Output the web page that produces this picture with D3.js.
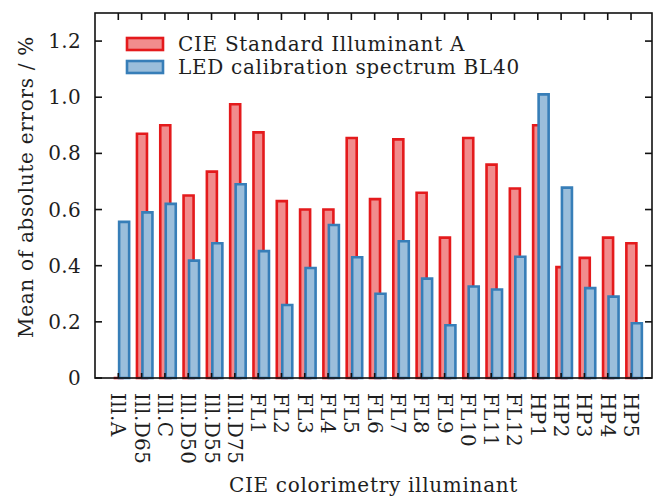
<!DOCTYPE html>
<html><head><meta charset="utf-8">
<script src="https://cdn.jsdelivr.net/npm/d3@7"></script>
<style>
html,body{margin:0;padding:0;background:#fff;}
svg text{font-family:"DejaVu Serif",serif;fill:#1e1e1e;}
</style></head>
<body><svg id="c" width="658" height="500"></svg>
<script>
const categories = ["Ill.A","Ill.D65","Ill.C","Ill.D50","Ill.D55","Ill.D75","FL1","FL2","FL3","FL4","FL5","FL6","FL7","FL8","FL9","FL10","FL11","FL12","HP1","HP2","HP3","HP4","HP5"];
const seriesNames = ["CIE Standard Illuminant A","LED calibration spectrum BL40"];
const illuminantA = [0,0.87,0.90,0.65,0.735,0.975,0.875,0.63,0.60,0.60,0.855,0.637,0.85,0.66,0.50,0.855,0.76,0.675,0.90,0.395,0.428,0.50,0.48];
const ledBL40 = [0.556,0.59,0.62,0.418,0.48,0.69,0.452,0.26,0.392,0.545,0.43,0.30,0.487,0.354,0.188,0.326,0.315,0.432,1.01,0.678,0.32,0.29,0.195];
const yTicks = [0,0.2,0.4,0.6,0.8,1.0,1.2];
const yTickLabels = ["0","0.2","0.4","0.6","0.8","1.0","1.2"];

const svg = d3.select("#c");
const L=95,R=652,T=13,B=378;
const x = d3.scaleLinear().domain([-1,22.9]).range([L,R]);
const y = d3.scaleLinear().domain([0,1.3]).range([B,T]);
const bw = 0.43;
const colors = [{stroke:"#e41a1c",fill:"#f18c8d"},{stroke:"#377eb8",fill:"#9bbedb"}];
const offsets = [0.015,0.25];
const series = [illuminantA, ledBL40];
const FS = 20, LS = "0.7px";

function barPath(cx, v){
  const x0=x(cx-bw/2), x1=x(cx+bw/2), y0=y(0), y1=y(v);
  return `M${x0},${y0}V${y1}H${x1}V${y0}Z`;
}
series.forEach((vals,s)=>{
  svg.append("g").selectAll("path").data(vals).join("path")
    .attr("d",(v,i)=>barPath(i+offsets[s],v))
    .attr("fill",colors[s].fill).attr("stroke",colors[s].stroke)
    .attr("stroke-width",2.6).attr("stroke-linejoin","miter");
});

// frame
const g = svg.append("g");
g.append("rect").attr("x",L).attr("y",T).attr("width",R-L).attr("height",B-T)
  .attr("fill","none").attr("stroke","#111").attr("stroke-width",1.6);
yTicks.forEach((t,i)=>{
  g.append("line").attr("x1",L).attr("x2",L+7).attr("y1",y(t)).attr("y2",y(t)).attr("stroke","#111").attr("stroke-width",1.6);
  g.append("line").attr("x1",R).attr("x2",R-7).attr("y1",y(t)).attr("y2",y(t)).attr("stroke","#111").attr("stroke-width",1.6);
  g.append("text").attr("x",L-14).attr("y",y(t)).attr("dy","0.35em").attr("text-anchor","end")
    .attr("font-size",FS).attr("letter-spacing","0.3px").text(yTickLabels[i]);
});
categories.forEach((c,i)=>{
  g.append("line").attr("x1",x(i)).attr("x2",x(i)).attr("y1",T).attr("y2",T+7).attr("stroke","#111").attr("stroke-width",1.6);
  g.append("line").attr("x1",x(i)).attr("x2",x(i)).attr("y1",B).attr("y2",B-5).attr("stroke","#111").attr("stroke-width",1.6);
  g.append("text").attr("transform",`translate(${x(i)},393) rotate(90)`)
    .attr("dy","0.35em").attr("text-anchor","start").attr("font-size",FS).attr("letter-spacing","0.4px").text(c);
});
svg.append("text").attr("x",(L+R)/2).attr("y",492).attr("text-anchor","middle").attr("font-size",FS)
  .attr("letter-spacing",LS).text("CIE colorimetry illuminant");
svg.append("text").attr("transform",`translate(33,187) rotate(-90)`).attr("text-anchor","middle")
  .attr("font-size",FS).attr("letter-spacing",LS).text("Mean of absolute errors / %");
seriesNames.forEach((n,i)=>{
  const yy = 44 + i*23;
  svg.append("rect").attr("x",127).attr("y",yy-6).attr("width",36).attr("height",12)
    .attr("fill",colors[i].fill).attr("stroke",colors[i].stroke).attr("stroke-width",2.6);
  svg.append("text").attr("x",178).attr("y",yy+7).attr("font-size",FS).attr("letter-spacing",LS).text(n);
});
</script></body></html>
